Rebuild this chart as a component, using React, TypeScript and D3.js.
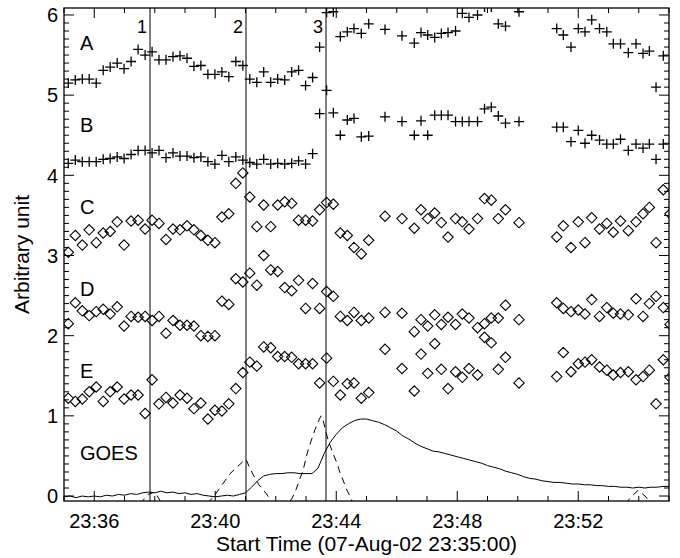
import React from 'react';
import * as d3 from 'd3';

// Sample times (seconds after 23:35:00) shared by the imaging series A–E
const sampleTimes = [
  8.5, 22.4, 36.3, 50.0, 63.9, 77.8, 91.6, 105.5, 119.2, 133.1,
  147.0, 160.9, 174.7, 188.4, 202.3, 216.2, 230.1, 244.0, 257.7, 271.5,
  285.4, 299.3, 313.2, 326.9, 340.8, 354.7, 368.5, 382.4, 396.1, 410.0,
  423.9, 437.8, 451.6, 465.3, 479.2, 493.1, 507.0, 520.9,
  534.2, 548.1, 561.9, 575.2, 589.7, 604.4,
  636.7, 670.4, 694.8, 708.1, 721.4, 735.3, 748.4, 761.7, 776.6, 790.0,
  803.3, 820.2, 834.1, 847.5, 861.4, 875.7, 902.5,
  977.3, 990.4, 1005.6, 1020.1, 1033.4, 1046.7, 1062.2, 1076.6, 1089.5, 1103.8,
  1119.3, 1134.6, 1148.5, 1161.0, 1174.3, 1188.7, 1202.0,
];

const seriesA: (number | null)[] = [
  5.15, 5.19, 5.2, 5.2, 5.15, 5.31, 5.35, 5.4, 5.33, 5.42,
  5.57, 5.5, 5.54, 5.44, 5.44, 5.48, 5.49, 5.46, 5.36, 5.37,
  5.26, 5.26, 5.29, 5.23, 5.42, 5.37, 5.2, 5.16, 5.29, 5.16,
  5.2, 5.19, 5.29, 5.31, 5.12, 5.22, 5.6, 6.03,
  6.04, 5.73, 5.79, 5.83, 5.77, 5.89,
  5.82, 5.74, 5.65, 5.78, 5.75, 5.72, 5.77, 5.78, 5.8, 6.02,
  5.97, 6.0, 6.1, 6.1, 5.89, 5.86, 6.04,
  5.83, 5.75, 5.6, 5.83, 5.79, 5.94, 5.83, 5.79, 5.64, 5.64,
  5.53, 5.64, 5.52, 5.55, 5.1, 5.49, null,
];

const seriesB: (number | null)[] = [
  4.15, 4.19, 4.17, 4.17, 4.17, 4.2, 4.21, 4.23, 4.21, 4.26,
  4.31, 4.31, 4.28, 4.31, 4.22, 4.28, 4.24, 4.24, 4.22, 4.23,
  4.17, 4.14, 4.25, 4.17, 4.23, 4.19, 4.16, 4.14, 4.2, 4.14,
  4.15, 4.14, 4.15, 4.18, 4.14, 4.27, 4.77, 5.06,
  4.78, 4.5, 4.69, 4.71, 4.48, 4.49,
  4.73, 4.67, 4.5, 4.68, 4.5, 4.75, 4.75, 4.75, 4.67, 4.67,
  4.67, 4.67, 4.83, 4.85, 4.74, 4.65, 4.67,
  4.6, 4.6, 4.42, 4.56, 4.4, 4.5, 4.44, 4.39, 4.39, 4.45,
  4.31, 4.39, 4.34, 4.39, 4.2, 4.39, null,
];

const seriesC: (number | null)[] = [
  3.04, 3.25, 3.13, 3.32, 3.16, 3.28, 3.3, 3.42, 3.13, 3.43,
  3.44, 3.33, 3.44, 3.4, 3.2, 3.33, 3.32, 3.37, 3.32, 3.25,
  3.19, 3.16, 3.48, 3.52, 3.9, 4.03, 3.73, 3.36, 3.63, 3.36,
  3.63, 3.67, 3.65, 3.44, 3.44, 3.43, 3.57, 3.66,
  3.64, 3.28, 3.25, 3.1, 3.02, 3.19,
  3.49, 3.46, 3.34, 3.57, 3.46, 3.53, 3.41, 3.23, 3.46, 3.42,
  3.33, 3.46, 3.71, 3.69, 3.46, 3.57, 3.41,
  3.23, 3.37, 3.1, 3.42, 3.16, 3.47, 3.33, 3.4, 3.29, 3.43,
  3.31, 3.42, 3.52, 3.6, 3.16, 3.82, 3.52,
];

const seriesD: (number | null)[] = [
  2.15, 2.41, 2.31, 2.25, 2.3, 2.33, 2.27, 2.36, 2.12, 2.24,
  2.23, 2.24, 2.19, 2.24, 2.03, 2.19, 2.13, 2.13, 2.12, 2.0,
  1.99, 2.0, 2.43, 2.39, 2.71, 2.67, 2.78, 2.63, 3.0, 2.82,
  2.8, 2.6, 2.56, 2.69, 2.34, 2.65, 2.34, 2.55,
  2.49, 2.24, 2.19, 2.29, 2.19, 2.22,
  2.29, 2.28, 2.05, 2.2, 2.12, 2.26, 2.14, 2.23, 2.14, 2.27,
  2.22, 2.1, 2.15, 2.22, 2.22, 2.38, 2.2,
  2.41, 2.34, 2.3, 2.32, 2.27, 2.45, 2.24, 2.35, 2.28, 2.27,
  2.26, 2.46, 2.24, 2.4, 2.49, 2.35, 2.14,
];

const seriesE: (number | null)[] = [
  1.22, 1.18, 1.21, 1.3, 1.36, 1.18, 1.3, 1.36, 1.21, 1.26,
  1.26, 1.03, 1.45, 1.15, 1.23, 1.16, 1.26, 1.22, 1.09, 1.16,
  0.96, 1.07, 1.06, 1.15, 1.34, 1.54, 1.67, 1.62, 1.86, 1.85,
  1.74, 1.74, 1.73, 1.65, 1.65, 1.65, 1.41, 1.72,
  1.43, 1.26, 1.4, 1.41, 1.22, 1.29,
  1.83, 1.59, 1.31, 1.77, 1.53, 1.9, 1.58, 1.34, 1.55, 1.48,
  1.59, 1.51, 1.98, 1.91, 1.58, 1.73, 1.41,
  1.49, 1.79, 1.55, 1.65, 1.67, 1.7, 1.61, 1.57, 1.51, 1.54,
  1.55, 1.45, 1.49, 1.57, 1.15, 1.7, 1.48,
];

// GOES light curve (solid)
const goesTimes = [
  0, 12, 24, 36, 48, 60, 72, 84, 96, 108, 120, 132, 144, 156, 168, 180, 192, 204, 216, 228,
  240, 252, 264, 276, 288, 300, 312, 324, 336, 348, 360, 372, 384, 396, 408, 420, 432, 444, 456, 468,
  480, 492, 504, 516, 528, 540, 552, 564, 576, 588, 600, 612, 624, 636, 648, 660, 672, 684, 696, 708,
  720, 732, 744, 756, 768, 780, 792, 804, 816, 828, 840, 852, 864, 876, 888, 900, 912, 924, 936, 948,
  960, 972, 984, 996, 1008, 1020, 1032, 1044, 1056, 1068, 1080, 1092, 1104, 1116, 1128, 1140, 1152, 1164, 1176, 1188,
  1200,
];
const goesValues = [
  -0.01, 0.0, -0.02, 0.0, -0.01, 0.0, -0.01, 0.01, 0.0, 0.02,
  0.01, 0.03, 0.02, 0.04, 0.05, 0.04, 0.06, 0.04, 0.05, 0.03,
  0.04, 0.02, 0.03, 0.01, 0.0, -0.01, 0.0, 0.01, 0.0, 0.02,
  0.04, 0.11, 0.19, 0.25, 0.27, 0.28, 0.28, 0.29, 0.29, 0.28,
  0.28, 0.28, 0.35, 0.53, 0.67, 0.77, 0.85, 0.9, 0.94, 0.96,
  0.96, 0.94, 0.92, 0.89, 0.85, 0.81, 0.75, 0.71, 0.66, 0.62,
  0.59, 0.56, 0.55, 0.53, 0.51, 0.49, 0.47, 0.45, 0.43, 0.41,
  0.38, 0.36, 0.34, 0.31, 0.29, 0.27, 0.24, 0.22, 0.21, 0.19,
  0.18, 0.17, 0.17, 0.16, 0.15, 0.15, 0.14, 0.14, 0.13, 0.13,
  0.12, 0.12, 0.11, 0.11, 0.1, 0.11, 0.1, 0.11, 0.11, 0.12,
  0.12,
];

// GOES time derivative (dashed)
const derivTimes = [
  150.7, 166.6, 180.5, 194.4, 269.8, 297.5, 319.3, 329.3, 343.2, 355.0,
  361.0, 367.0, 374.9, 386.8, 398.7, 404.6, 428.4, 452.2, 460.2, 468.1,
  474.1, 480.0, 484.0, 491.9, 497.9, 505.8, 509.8, 513.7, 519.7, 523.7,
  533.6, 541.5, 547.5, 553.4, 561.3, 567.3, 587.1, 1112.7, 1126.6, 1138.5,
  1152.4, 1166.3,
];
const derivValues = [
  -0.1, 0.02, 0.05, -0.1, -0.2, 0.0, 0.19, 0.28, 0.36, 0.43,
  0.46, 0.37, 0.27, 0.14, 0.05, 0.0, -0.25, -0.03, 0.08, 0.22,
  0.32, 0.47, 0.57, 0.72, 0.83, 0.95, 1.0, 0.95, 0.8, 0.7,
  0.53, 0.41, 0.29, 0.2, 0.07, 0.0, -0.3, -0.1, 0.0, 0.07,
  0.0, -0.1,
];

const eventTimes = [170.6, 361.0, 519.7];
const eventLabels = ['1', '2', '3'];

const seriesNames = ['A', 'B', 'C', 'D', 'E', 'GOES'];
const seriesNameLevels = [5.56, 4.54, 3.52, 2.49, 1.47, 0.45];

const xMajorTicks = [60, 300, 540, 780, 1020];
const xMajorLabels = ['23:36', '23:40', '23:44', '23:48', '23:52'];
const xMinorTicks = d3.range(0, 1201, 60);
const yMajorTicks = [0, 1, 2, 3, 4, 5, 6];
const yMinorTicks = d3.range(0, 61).map((k) => k / 10);

const W = 680;
const H = 558;
const L = 64, R = 669, T = 8, B = 501;
const FONT = "'Liberation Sans', Arial, Helvetica, sans-serif";

export default function App() {
  const x = d3.scaleLinear().domain([0, 1200]).range([L, R]);
  const y = d3.scaleLinear().domain([-0.062, 6.087]).range([B, T]);

  const plusPath = (vals: (number | null)[]) =>
    vals
      .map((v, i) => {
        if (v === null) return '';
        const cx = x(sampleTimes[i]);
        const cy = y(v);
        return `M${cx - 5},${cy}h10M${cx},${cy - 5}v10`;
      })
      .join('');

  const diamondPath = (vals: (number | null)[]) =>
    vals
      .map((v, i) => {
        if (v === null) return '';
        const cx = x(sampleTimes[i]);
        const cy = y(v);
        const s = 5.2;
        return `M${cx},${cy - s}L${cx + s},${cy}L${cx},${cy + s}L${cx - s},${cy}Z`;
      })
      .join('');

  const line = d3
    .line<[number, number]>()
    .x((d) => x(d[0]))
    .y((d) => y(d[1]));

  const goesPath = line(goesTimes.map((t, i) => [t, goesValues[i]] as [number, number])) || '';
  const derivPath = line(derivTimes.map((t, i) => [t, derivValues[i]] as [number, number])) || '';

  const majorLen = 10;
  const minorLen = 5;

  let tickPath = '';
  xMinorTicks.forEach((t) => {
    const px = x(t);
    const len = xMajorTicks.includes(t) ? majorLen : minorLen;
    tickPath += `M${px},${B}v${-len}M${px},${T}v${len}`;
  });
  yMinorTicks.forEach((v) => {
    const py = y(v);
    const len = Math.abs(v - Math.round(v)) < 1e-6 ? majorLen : minorLen;
    tickPath += `M${L},${py}h${len}M${R},${py}h${-len}`;
  });

  return (
    <svg
      width={W}
      height={H}
      style={{ position: 'absolute', left: 0, top: 0, background: '#fff' }}
      fontFamily={FONT}
    >
      <defs>
        <clipPath id="plotClip">
          <rect x={L} y={T} width={R - L} height={B - T} />
        </clipPath>
      </defs>
      <rect x={0} y={0} width={W} height={H} fill="#fff" />

      <g clipPath="url(#plotClip)">
        <path d={plusPath(seriesA)} stroke="#000" strokeWidth={1.3} fill="none" />
        <path d={plusPath(seriesB)} stroke="#000" strokeWidth={1.3} fill="none" />
        <path d={diamondPath(seriesC)} stroke="#000" strokeWidth={1.1} fill="none" />
        <path d={diamondPath(seriesD)} stroke="#000" strokeWidth={1.1} fill="none" />
        <path d={diamondPath(seriesE)} stroke="#000" strokeWidth={1.1} fill="none" />
        <path d={goesPath} stroke="#000" strokeWidth={1} fill="none" />
        <path d={derivPath} stroke="#000" strokeWidth={1} fill="none" strokeDasharray="7,5" />
        {eventTimes.map((t, i) => (
          <line key={i} x1={x(t)} x2={x(t)} y1={T} y2={B} stroke="#000" strokeWidth={1} />
        ))}
      </g>

      {eventTimes.map((t, i) => (
        <text key={i} x={x(t) - 3} y={33} fontSize={18} textAnchor="end" fill="#000">
          {eventLabels[i]}
        </text>
      ))}

      {seriesNames.map((n, i) => (
        <text key={n} x={80} y={y(seriesNameLevels[i])} fontSize={20} fill="#000">
          {n}
        </text>
      ))}

      <path d={tickPath} stroke="#000" strokeWidth={1} fill="none" />
      <rect x={L} y={T} width={R - L} height={B - T} fill="none" stroke="#000" strokeWidth={1.3} />

      {yMajorTicks.map((v) => (
        <text key={v} x={58} y={y(v)} dy="0.36em" fontSize={20} textAnchor="end" fill="#000">
          {v}
        </text>
      ))}
      {xMajorTicks.map((t, i) => (
        <text key={t} x={x(t)} y={528} fontSize={20} textAnchor="middle" fill="#000">
          {xMajorLabels[i]}
        </text>
      ))}
      <text x={(L + R) / 2} y={551} fontSize={21} textAnchor="middle" fill="#000">
        Start Time (07-Aug-02 23:35:00)
      </text>
      <text
        transform={`translate(29,${(T + B) / 2}) rotate(-90)`}
        fontSize={21}
        textAnchor="middle"
        fill="#000"
      >
        Arbitrary unit
      </text>
    </svg>
  );
}
